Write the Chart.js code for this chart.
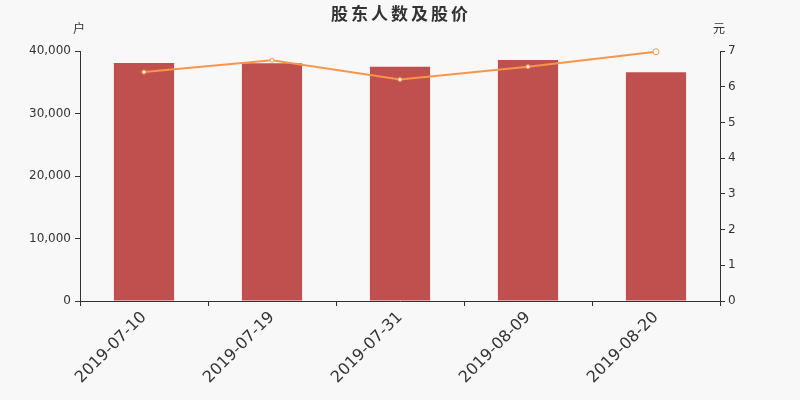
<!DOCTYPE html>
<html>
<head>
<meta charset="utf-8">
<script src="https://cdn.jsdelivr.net/npm/chart.js@4/dist/chart.umd.min.js"></script>
<style>
  html, body { margin: 0; padding: 0; background: #f8f8f8; }
  #wrap { width: 800px; height: 400px; }
</style>
</head>
<body>
<div id="wrap"><canvas id="chart"></canvas></div>
<script>
// data
const dates = ['2019-07-10', '2019-07-19', '2019-07-31', '2019-08-09', '2019-08-20'];
const holders = [38100, 38050, 37500, 38580, 36600];
const prices = [6.41, 6.74, 6.20, 6.56, 6.98];

const titleText = '股东人数及股价';
const leftUnit = '户';
const rightUnit = '元';

const textColor = '#333';
const cjkFont = '"Noto Sans CJK SC", "DejaVu Sans", sans-serif';

// title and the two unit labels above the axes
const headerPlugin = {
    id: 'header',
    afterDraw(chart) {
        const ctx = chart.ctx;
        const area = chart.chartArea;
        ctx.save();
        ctx.fillStyle = textColor;
        ctx.textAlign = 'center';
        ctx.textBaseline = 'middle';
        ctx.font = 'bold 17px ' + cjkFont;
        ctx.letterSpacing = '3px';
        ctx.fillText(titleText, 401, 14);
        ctx.letterSpacing = '0px';
        ctx.font = '12px ' + cjkFont;
        ctx.fillText(leftUnit, area.left - 1, 28);
        ctx.fillText(rightUnit, area.right - 1, 28);
        ctx.restore();
    }
};

new Chart(document.getElementById('chart'), {
    data: {
        labels: dates,
        datasets: [{
            type: 'line',
            label: '股价',
            data: prices,
            yAxisID: 'y1',
            borderColor: '#f7964a',
            borderWidth: 2,
            pointBackgroundColor: '#ffffff',
            pointBorderColor: '#f7964a',
            pointBorderWidth: 1,
            pointRadius: [2, 2, 2, 2, 3],
            tension: 0,
            clip: false,
            order: 0
        }, {
            type: 'bar',
            label: '股东人数',
            data: holders,
            yAxisID: 'y',
            backgroundColor: '#c0504d',
            barPercentage: 0.94,
            categoryPercentage: 0.5,
            order: 1
        }]
    },
    options: {
        responsive: true,
        maintainAspectRatio: false,
        animation: false,
        layout: {
            padding: { top: 51, left: 0, right: 0, bottom: 0 }
        },
        plugins: {
            legend: { display: false },
            title: { display: false },
            tooltip: { enabled: false }
        },
        scales: {
            x: {
                afterFit(scale) { scale.height = 99; },
                grid: {
                    display: true,
                    drawOnChartArea: false,
                    offset: true,
                    tickLength: 5,
                    color: textColor
                },
                border: { color: textColor },
                ticks: {
                    color: textColor,
                    font: { family: 'DejaVu Sans', size: 16 },
                    minRotation: 45,
                    maxRotation: 45,
                    padding: 2
                }
            },
            y: {
                position: 'left',
                min: 0,
                max: 40000,
                afterFit(scale) { scale.width = 80; },
                grid: {
                    drawOnChartArea: false,
                    tickLength: 5,
                    color: textColor
                },
                border: { color: textColor },
                ticks: {
                    stepSize: 10000,
                    color: textColor,
                    padding: 4,
                    font: { family: 'DejaVu Sans', size: 12 },
                    callback: v => v.toLocaleString('en-US')
                }
            },
            y1: {
                position: 'right',
                min: 0,
                max: 7,
                afterFit(scale) { scale.width = 80; },
                grid: {
                    drawOnChartArea: false,
                    tickLength: 5,
                    color: textColor
                },
                border: { color: textColor },
                ticks: {
                    stepSize: 1,
                    color: textColor,
                    padding: 3,
                    font: { family: 'DejaVu Sans', size: 12 }
                }
            }
        }
    },
    plugins: [headerPlugin]
});
</script>
</body>
</html>
